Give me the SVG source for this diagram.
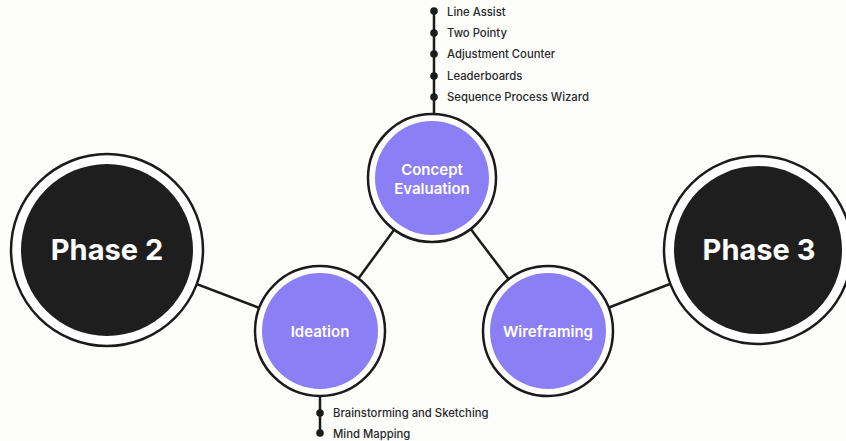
<svg xmlns="http://www.w3.org/2000/svg" width="846" height="441" viewBox="0 0 846 441">
  <style>
    .link { stroke: #1b1b1b; stroke-width: 2.5; fill: none; }
    .ring { fill: #ffffff; stroke: #1b1b1b; stroke-width: 2.5; }
    .phase { fill: #1e1e1e; }
    .step { fill: #8c7ef4; }
    .phase-label { font-family: Inter, "Liberation Sans", sans-serif; font-weight: 700; font-size: 29px; fill: #ffffff; text-anchor: middle; }
    .step-label { font-family: Inter, "Liberation Sans", sans-serif; font-weight: 600; font-size: 15px; fill: #ffffff; text-anchor: middle; }
    .item { font-family: Inter, "Liberation Sans", sans-serif; font-weight: 500; font-size: 11.3px; fill: #2a2a2a; }
    .dot { fill: #1b1b1b; }
  </style>
  <rect width="846" height="441" fill="#fdfdfc"/>

  <!-- connectors between nodes -->
  <g id="connectors">
    <line class="link" x1="107" y1="250" x2="320" y2="331"/>
    <line class="link" x1="320" y1="331" x2="432" y2="178"/>
    <line class="link" x1="432" y1="178" x2="548" y2="331"/>
    <line class="link" x1="548" y1="331" x2="758" y2="250"/>
    <!-- bullet stems -->
    <line class="link" x1="434" y1="10" x2="434" y2="116"/>
    <line class="link" x1="320" y1="394" x2="320" y2="434"/>
  </g>

  <g id="phase2">
    <circle class="ring" cx="107" cy="250" r="96"/>
    <circle class="phase" cx="107" cy="250" r="86"/>
    <text class="phase-label" x="107" y="260">Phase 2</text>
  </g>

  <g id="phase3">
    <circle class="ring" cx="758" cy="250" r="94"/>
    <circle class="phase" cx="758" cy="250" r="84"/>
    <text class="phase-label" x="759" y="260">Phase 3</text>
  </g>

  <g id="concept-evaluation">
    <circle class="ring" cx="432" cy="178" r="64"/>
    <circle class="step" cx="432" cy="178" r="57"/>
    <text class="step-label" x="432" y="175">Concept</text>
    <text class="step-label" x="432" y="194">Evaluation</text>
  </g>

  <g id="ideation">
    <circle class="ring" cx="320" cy="331" r="65"/>
    <circle class="step" cx="320" cy="331" r="58"/>
    <text class="step-label" x="320" y="337">Ideation</text>
  </g>

  <g id="wireframing">
    <circle class="ring" cx="548" cy="331" r="65"/>
    <circle class="step" cx="548" cy="331" r="58"/>
    <text class="step-label" x="548" y="337">Wireframing</text>
  </g>

  <g id="concept-items">
    <circle class="dot" cx="434" cy="11" r="3.8"/>
    <circle class="dot" cx="434" cy="33" r="3.8"/>
    <circle class="dot" cx="434" cy="54" r="3.8"/>
    <circle class="dot" cx="434" cy="76" r="3.8"/>
    <circle class="dot" cx="434" cy="97" r="3.8"/>
    <text class="item" x="447" y="16">Line Assist</text>
    <text class="item" x="447" y="37">Two Pointy</text>
    <text class="item" x="447" y="58">Adjustment Counter</text>
    <text class="item" x="447" y="80">Leaderboards</text>
    <text class="item" x="447" y="101">Sequence Process Wizard</text>
  </g>

  <g id="ideation-items">
    <circle class="dot" cx="320" cy="413" r="3.8"/>
    <circle class="dot" cx="320" cy="433" r="3.8"/>
    <text class="item" x="333" y="417">Brainstorming and Sketching</text>
    <text class="item" x="333" y="438">Mind Mapping</text>
  </g>
</svg>
